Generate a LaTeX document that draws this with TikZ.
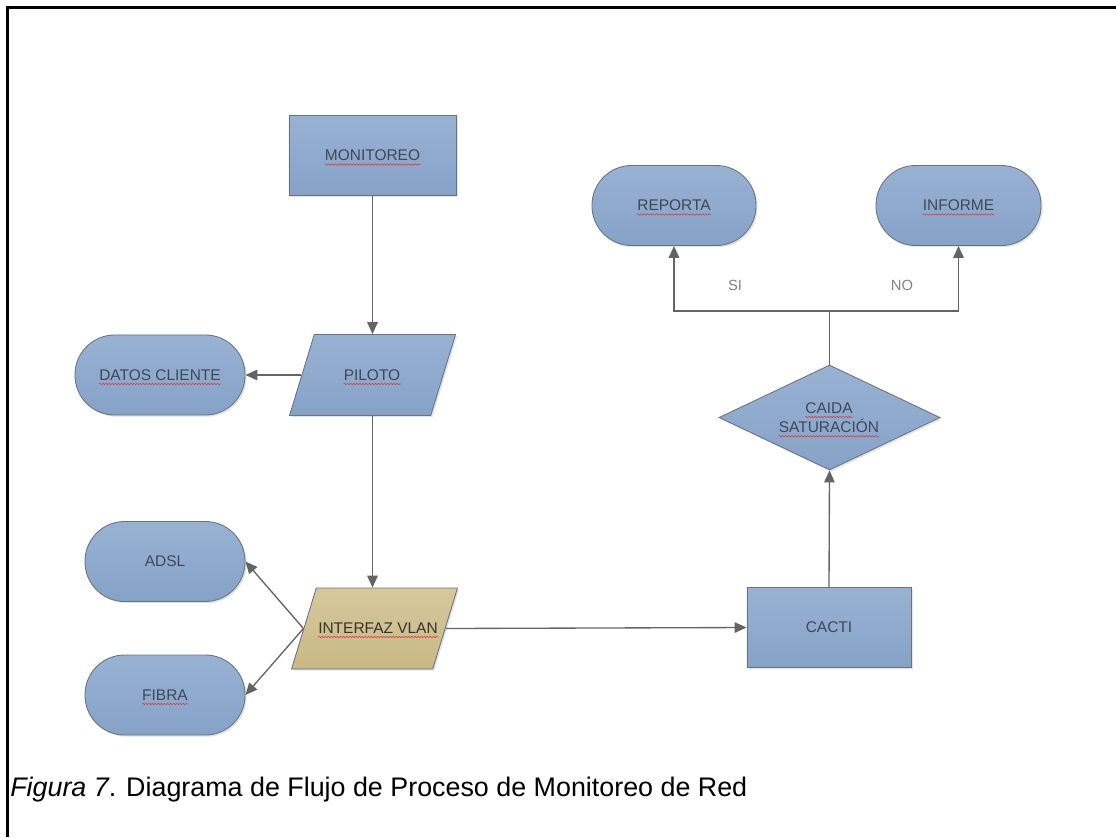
\documentclass[tikz,border=0pt]{standalone}
\usepackage{fontspec}
\setmainfont{Liberation Sans}
\usetikzlibrary{shapes.geometric,arrows.meta,decorations.pathmorphing,shadows}

\definecolor{boxtop}{RGB}{152,178,211}
\definecolor{boxbot}{RGB}{133,162,199}
\definecolor{tantop}{RGB}{214,200,156}
\definecolor{tanbot}{RGB}{199,184,134}
\definecolor{edgec}{RGB}{105,115,125}
\definecolor{linec}{RGB}{100,100,100}
\definecolor{labelc}{RGB}{62,72,88}
\definecolor{branchc}{RGB}{130,130,130}
\definecolor{spellred}{RGB}{225,55,65}

\begin{document}
\begin{tikzpicture}[x=0.025cm,y=-0.025cm,
  shapebase/.style={draw=edgec, line width=0.6pt, inner sep=0pt,
    top color=boxtop, bottom color=boxbot,
    drop shadow={shadow xshift=1.2pt, shadow yshift=-1.2pt, opacity=0.22}},
  procbox/.style={shapebase, rectangle, minimum width=#1, minimum height=2cm},
  termbox/.style={shapebase, rectangle, rounded corners=0.99cm, minimum width=#1, minimum height=2cm},
  iobox/.style={shapebase, trapezium, inner sep=3pt, trapezium stretches=true,
    trapezium left angle=78, trapezium right angle=102,
    minimum width=4.15cm, minimum height=2.025cm},
  decbox/.style={shapebase, diamond, minimum width=5.525cm, minimum height=2.625cm},
  lbl/.style={inner sep=0pt, text=labelc, font=\fontsize{11}{13}\selectfont},
  branchlbl/.style={inner sep=0pt, text=branchc, font=\fontsize{10.5}{12}\selectfont},
  squig/.style={draw=spellred, line width=0.4pt, decorate,
    decoration={snake, amplitude=0.5pt, segment length=2.2pt}},
  flow/.style={draw=linec, line width=0.95pt, -{Triangle[length=8.5pt,width=7.5pt]}},
  plain/.style={draw=linec, line width=0.95pt},
  frameline/.style={draw=black, line width=1.6pt}
]
\useasboundingbox (0,0) rectangle (1116,837);

% page frame (top and left rules)
\draw[frameline] (7.5,837) -- (7.5,7.5) -- (1116,7.5);

% shapes
\node[procbox=4.175cm] (mon) at (372.5,155.5) {};
\node[iobox] (pil) at (372.5,375) {};
\node[termbox=4.25cm] (dat) at (160,375) {};
\node[iobox, top color=tantop, bottom color=tanbot] (ifz) at (374.5,628.5) {};
\node[termbox=4cm] (ads) at (165,561.5) {};
\node[termbox=4cm] (fib) at (165,695) {};
\node[procbox=4.1cm] (cac) at (829,627.5) {};
\node[decbox] (dia) at (829.5,417.5) {};
\node[termbox=4.1cm] (rep) at (674,205.5) {};
\node[termbox=4.125cm] (inf) at (958.5,205.5) {};

% texts
\node[lbl] (monT) at (mon) {MONITOREO};
\node[lbl] (pilT) at (372,375) {PILOTO};
\node[lbl] (datT) at (dat) {DATOS CLIENTE};
\node[lbl, text=black!80] (ifzT) at (378,628) {INTERFAZ VLAN};
\node[lbl] (adsT) at (ads) {ADSL};
\node[lbl] (fibT) at (fib) {FIBRA};
\node[lbl] (cacT) at (cac) {CACTI};
\node[lbl] (caiT) at (829,408) {CAIDA};
\node[lbl] (satT) at (829,426) {SATURACIÓN};
\node[lbl] (repT) at (rep) {REPORTA};
\node[lbl] (infT) at (inf) {INFORME};

% spelling underlines
\foreach \t in {monT,pilT,datT,ifzT,fibT,caiT,satT,repT,infT}
  \draw[squig] ([yshift=-2.6pt]\t.base west) -- ([yshift=-2.6pt]\t.base east);

% connectors
\draw[flow] (mon.south) -- (mon.south |- pil.north);
\draw[flow] (pil.west) -- (dat.east);
\draw[flow] (pil.south) -- (pil.south |- ifz.north);
\draw[flow] (ifz.west) -- (ads.east);
\draw[flow] (ifz.west) -- (fib.east);
\draw[flow] (ifz.east) -- (cac.west);
\draw[flow] (cac.north) -- (dia.south);
\coordinate (split) at (829.5,311);
\draw[plain] (dia.north) -- (split);
\draw[flow] (split) -| (rep.south);
\draw[flow] (split) -| (inf.south);

% branch labels
\node[branchlbl] (si) at (735,285) {SI};
\node[branchlbl] (no) at (902,285) {NO};

% caption
\node[anchor=base west, inner sep=0pt, font=\fontsize{19.1}{23}\selectfont] (cap) at (10,796)
  {\textit{Figura 7}. Diagrama de Flujo de Proceso de Monitoreo de Red};
\end{tikzpicture}
\end{document}
